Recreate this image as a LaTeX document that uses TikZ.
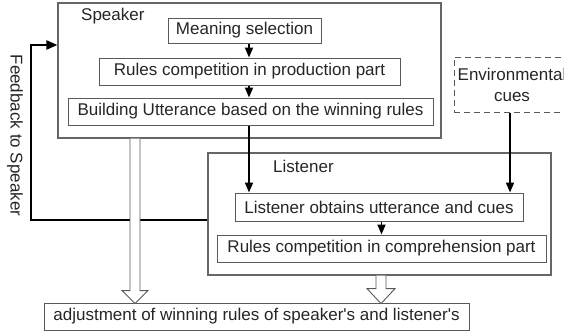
\documentclass[tikz,border=0pt]{standalone}
\usepackage{fontspec}
\setmainfont{Liberation Sans}
\usetikzlibrary{arrows.meta}
\begin{document}
\begin{tikzpicture}[x=1pt,y=-1pt,
  every node/.style={font=\fontsize{17}{21}\selectfont, text=black!85},
  box/.style={draw=black!65, line width=1pt, inner sep=0pt, fill=white},
  group/.style={draw=black!60, line width=1.2pt, inner sep=0pt},
  arr/.style={line width=1.8pt, -{Triangle[length=10pt,width=8pt]}},
  fb/.style={line width=2.2pt, -{Triangle[length=11pt,width=9pt]}},
  hollow/.style={draw=black!65, line width=0.9pt, fill=white}
]
\useasboundingbox (0,0) rectangle (564,332);

% groups
\node[group, minimum width=383pt, minimum height=135pt] (speaker) at (249.5,70.5) {};
\node[anchor=west, inner sep=0pt] (spk) at (81,16) {Speaker};
\node[group, minimum width=343pt, minimum height=122pt] (listener) at (379.5,214) {};
\node[anchor=west, inner sep=0pt] (lst) at (273,166) {Listener};

% boxes
\node[box, minimum width=153pt, minimum height=25pt] (meaning) at (244.5,30.5) {Meaning selection};
\node[box, minimum width=301pt, minimum height=27pt] (rulesP) at (249.5,71.5) {Rules competition in production part};
\node[box, minimum width=365pt, minimum height=27pt] (build) at (250.5,111.5) {Building Utterance based on the winning rules};
\node[box, dash pattern=on 6pt off 4pt, minimum width=116pt, minimum height=55pt, align=center] (env) at (512,84.5) {Environmental\\cues};
\node[box, minimum width=288pt, minimum height=28pt] (obtains) at (379,207) {Listener obtains utterance and cues};
\node[box, minimum width=329pt, minimum height=27pt] (rulesC) at (381.5,248.5) {Rules competition in comprehension part};
\node[box, minimum width=425pt, minimum height=27pt] (adjust) at (256.5,316.5) {adjustment of winning rules of speaker\textquotesingle s and listener\textquotesingle s};

\node[rotate=-90, inner sep=0pt] (fbt) at (15,135.5) {Feedback to Speaker};

% black arrows
\coordinate (bx) at (249,0);
\coordinate (ex) at (510,0);
\draw[arr] (meaning.south -| bx) -- (rulesP.north -| bx);
\draw[arr] (rulesP.south -| bx) -- (build.north -| bx);
\draw[arr] (build.south -| bx) -- (obtains.north -| bx);
\draw[arr] (env.south -| ex) -- (obtains.north -| ex);
\draw[arr] (obtains.south -| rulesC.north) -- (rulesC.north);

% feedback
\coordinate (fbA) at (31,220);
\coordinate (fbB) at (31,45);
\draw[fb] (listener.west |- fbA) -- (fbA) -- (fbB) -- (speaker.west |- fbB);

% hollow arrows
\coordinate (h1) at (135,0);
\coordinate (h2) at (381,0);
\draw[hollow] (speaker.south -| h1) ++(-5,0) -- ++(0,152) -- ++(-8,0) -- ++(13,13) -- ++(13,-13) -- ++(-8,0) -- ++(0,-152);
\draw[hollow] (listener.south -| h2) ++(-5,0) -- ++(0,13) -- ++(-9,0) -- ++(14,15) -- ++(14,-15) -- ++(-9,0) -- ++(0,-13);
\end{tikzpicture}
\end{document}
